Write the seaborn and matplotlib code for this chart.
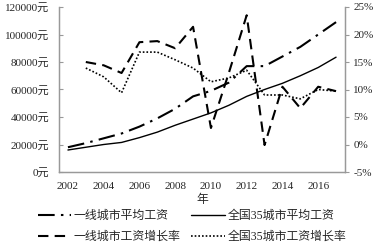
import matplotlib
matplotlib.use("Agg")
import matplotlib.pyplot as plt
import seaborn as sns
import numpy as np
import pandas as pd
from matplotlib.ticker import FixedLocator, FuncFormatter

years = list(range(2002, 2018))
tier1_wage = [18000, 21000, 24500, 28000, 33000, 39000, 46000, 55000, 59000, 65000,
              77000, 77000, 84000, 91000, 100000, 109000]
city35_wage = [16000, 18000, 20000, 21500, 25000, 29000, 34000, 38500, 43000, 48500,
               55000, 60000, 64500, 70000, 76000, 83500]
growth_years = list(range(2003, 2018))
tier1_growth = [15.0, 14.4, 13.0, 18.6, 18.8, 17.5, 21.4, 3.0, 13.0, 23.5, -0.1,
                10.5, 6.6, 10.5, 9.7]
city35_growth = [13.9, 12.3, 9.4, 16.8, 16.8, 15.4, 13.9, 11.4, 12.1, 13.5, 9.0,
                 9.0, 8.3, 10.0, 9.7]
labels = ["一线城市平均工资", "全国35城市平均工资", "一线城市工资增长率", "全国35城市工资增长率"]
left_ticks = [0, 20000, 40000, 60000, 80000, 100000, 120000]
right_ticks = [-5, 0, 5, 10, 15, 20, 25]
xtick_labels = [2002, 2004, 2006, 2008, 2010, 2012, 2014, 2016]

sns.set_style("white")
plt.rcParams['font.family'] = ['Liberation Serif', 'Noto Sans CJK SC', 'DejaVu Sans']

fig = plt.figure(figsize=(3.85, 2.44), dpi=100)
ax = fig.add_axes([59/385, 1-172/244, (345-59)/385, (172-7)/244])
ax2 = ax.twinx()

sns.lineplot(x=years, y=tier1_wage, ax=ax, color='black', linewidth=1.5,
             linestyle=(0, (8, 3, 1.2, 3)), label=labels[0], legend=False)
sns.lineplot(x=years, y=city35_wage, ax=ax, color='black', linewidth=1.0,
             linestyle='-', label=labels[1], legend=False)
sns.lineplot(x=growth_years, y=tier1_growth, ax=ax2, color='black', linewidth=1.5,
             linestyle=(0, (5, 3)), label=labels[2], legend=False)
sns.lineplot(x=growth_years, y=city35_growth, ax=ax2, color='black', linewidth=1.2,
             linestyle=(0, (1, 1.2)), label=labels[3], legend=False)

ax.set_xlim(2001.5, 2017.5)
ax.set_ylim(0, 120000)
ax2.set_ylim(-5, 25)

ax.xaxis.set_major_locator(FixedLocator(xtick_labels))
ax.set_xticklabels([str(y) for y in xtick_labels])
ax.xaxis.set_minor_locator(FixedLocator(np.arange(2001.5, 2018, 2)))
ax.tick_params(axis='x', which='major', length=0, pad=7, labelsize=8)
ax.tick_params(axis='x', which='minor', length=3, direction='in', color='#999999', width=0.8)

ax.yaxis.set_major_locator(FixedLocator(left_ticks))
ax.yaxis.set_major_formatter(FuncFormatter(lambda v, p: f"{int(v)}元"))
ax.tick_params(axis='y', length=3, direction='in', color='#999999', width=0.8, pad=7, labelsize=8)

ax2.yaxis.set_major_locator(FixedLocator(right_ticks))
ax2.yaxis.set_major_formatter(FuncFormatter(lambda v, p: f"{int(v)}%"))
ax2.tick_params(axis='y', length=3, direction='out', color='#999999', width=0.8, pad=3, labelsize=8)

ax.set_xlabel("年", fontsize=8.5, labelpad=2)
ax.set_ylabel("")
ax2.set_ylabel("")

for a in (ax, ax2):
    a.spines['top'].set_visible(False)
    for s in ('left', 'bottom', 'right'):
        a.spines[s].set_color('#999999')
        a.spines[s].set_linewidth(0.9)
ax.grid(False)
ax2.grid(False)

h1 = ax.get_lines()
h2 = ax2.get_lines()
handles = [h1[0], h2[0], h1[1], h2[1]]
labs = [labels[0], labels[2], labels[1], labels[3]]
fig.legend(handles, labs, loc='upper left', bbox_to_anchor=(38/385, 1-210/244), ncol=2,
           frameon=False, fontsize=8.6, handlelength=2.8, handletextpad=0.2,
           columnspacing=0.9, labelspacing=0.75, borderpad=0, borderaxespad=0)

fig.savefig("out.png", dpi=100)
